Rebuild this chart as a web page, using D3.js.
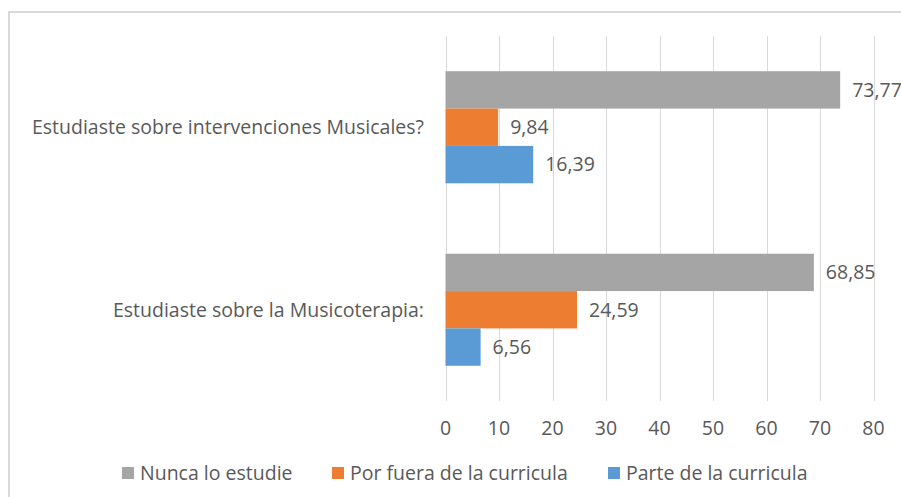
<!DOCTYPE html>
<html>
<head>
<meta charset="utf-8">
<script src="https://cdn.jsdelivr.net/npm/d3@7"></script>
<style>
  body { margin: 0; background: #fff; }
  svg text { font-family: "Open Sans", sans-serif; fill: #595959; font-size: 19.5px; }
</style>
</head>
<body>
<script>
// data
var categories = ["Estudiaste sobre intervenciones Musicales?", "Estudiaste sobre la Musicoterapia:"]
var seriesNames = ["Nunca lo estudie", "Por fuera de la curricula", "Parte de la curricula"]
var nunca = [73.77, 68.85]
var porFuera = [9.84, 24.59]
var parte = [16.39, 6.56]
var xTicks = [0, 10, 20, 30, 40, 50, 60, 70, 80]
var colors = ["#a5a5a5", "#ed7d31", "#5b9bd5"]

var values = [nunca, porFuera, parte]

var W = 901, H = 497
var svg = d3.select("body").append("svg")
  .attr("width", W).attr("height", H)

// chart frame (open on right and bottom, like the cropped original)
svg.append("rect")
  .attr("x", 9).attr("y", 12)
  .attr("width", 1000).attr("height", 600)
  .attr("fill", "none")
  .attr("stroke", "#d9d9d9")
  .attr("stroke-width", 2)

var xScale = d3.scaleLinear().domain([0, 80]).range([445.5, 873.5])
var yScale = d3.scaleBand().domain(categories).range([36, 401])
  .paddingInner(0.386).paddingOuter(0.193)
var ySub = d3.scaleBand().domain(seriesNames).range([0, yScale.bandwidth()])

// grid lines
svg.append("g").selectAll("line")
  .data(xTicks)
  .enter().append("line")
  .attr("x1", function(d) { return Math.round(xScale(d)) + 0.5 })
  .attr("x2", function(d) { return Math.round(xScale(d)) + 0.5 })
  .attr("y1", 36).attr("y2", 401)
  .attr("stroke", "#d9d9d9")
  .attr("stroke-width", 1)

// tick labels
svg.append("g").selectAll("text")
  .data(xTicks)
  .enter().append("text")
  .attr("x", function(d) { return xScale(d) })
  .attr("y", 428)
  .attr("dy", "0.35em")
  .attr("text-anchor", "middle")
  .text(function(d) { return d })

// category labels
svg.append("g").selectAll("text")
  .data(categories)
  .enter().append("text")
  .attr("x", 424)
  .attr("y", function(d) { return yScale(d) + yScale.bandwidth() / 2 })
  .attr("dy", "0.35em")
  .attr("text-anchor", "end")
  .text(function(d) { return d })

var fmt = function(v) { return v.toFixed(2).replace(".", ",") }

// bars
var groups = svg.append("g").selectAll("g")
  .data(seriesNames)
  .enter().append("g")
  .attr("fill", function(d, i) { return colors[i] })

groups.each(function(name, si) {
  var g = d3.select(this)
  var rows = categories.map(function(c, ci) { return { cat: c, v: values[si][ci] } })
  g.selectAll("rect")
    .data(rows)
    .enter().append("rect")
    .attr("x", xScale(0))
    .attr("y", function(d) { return yScale(d.cat) + ySub(name) })
    .attr("width", function(d) { return xScale(d.v) - xScale(0) })
    .attr("height", ySub.bandwidth())
  g.selectAll("text")
    .data(rows)
    .enter().append("text")
    .attr("x", function(d) { return xScale(d.v) + 12 })
    .attr("y", function(d) { return yScale(d.cat) + ySub(name) + ySub.bandwidth() / 2 })
    .attr("dy", "0.35em")
    .text(function(d) { return fmt(d.v) })
})

// legend
var legendX = [122, 332, 608]
var legend = svg.append("g").selectAll("g")
  .data(seriesNames)
  .enter().append("g")
  .attr("transform", function(d, i) { return "translate(" + legendX[i] + ",467)" })
legend.append("rect")
  .attr("width", 12).attr("height", 12)
  .attr("fill", function(d, i) { return colors[i] })
legend.append("text")
  .attr("x", 18).attr("y", 6)
  .attr("dy", "0.35em")
  .text(function(d) { return d })
</script>
</body>
</html>
